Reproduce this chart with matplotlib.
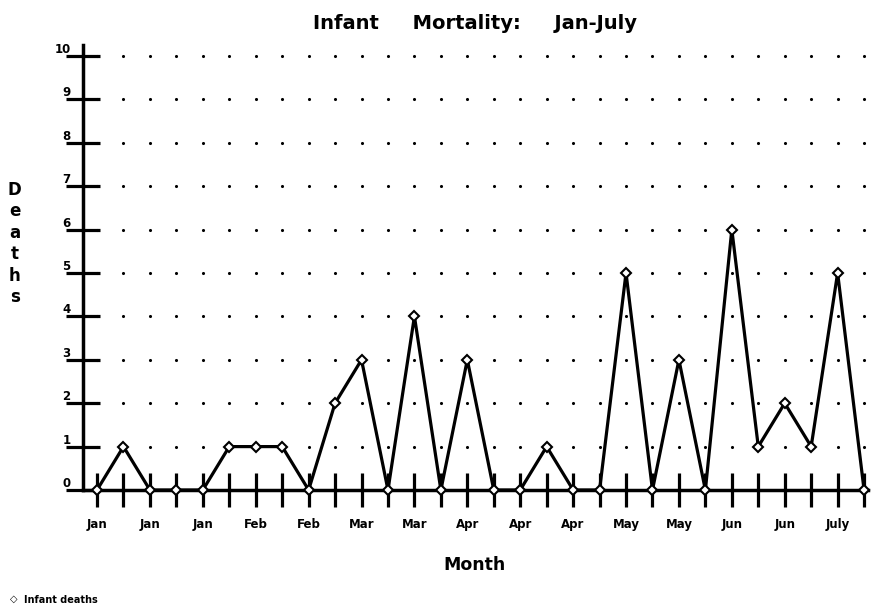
import numpy as np
import matplotlib.pyplot as plt

plt.rcParams['font.family'] = ['DejaVu Sans']

# -----------------------------------------
# Datos
# -----------------------------------------
months = ["Jan", "Jan", "Jan", "Jan", "Jan", "Feb", "Feb", "Feb", "Feb", "Mar",
          "Mar", "Mar", "Mar", "Apr", "Apr", "Apr", "Apr", "Apr", "Apr", "May",
          "May", "May", "May", "Jun", "Jun", "Jun", "Jun", "July", "July", "July"]
deaths = [0, 1, 0, 0, 0, 1, 1, 1, 0, 2,
          3, 0, 4, 0, 3, 0, 0, 1, 0, 0,
          5, 0, 3, 0, 6, 1, 2, 1, 5, 0]
tick_labels = ["Jan", "", "Jan", "", "Jan", "", "Feb", "", "Feb", "",
               "Mar", "", "Mar", "", "Apr", "", "Apr", "", "Apr", "",
               "May", "", "May", "", "Jun", "", "Jun", "", "July", ""]
y_ticks = list(range(0, 11))

x = np.arange(len(deaths))

fig = plt.figure(figsize=(8.71, 6.09), dpi=100)
ax = fig.add_axes([0.0953, 0.1954, 0.9013, 0.7306])

# puntos de la rejilla
gx, gy = np.meshgrid(x, y_ticks[1:])
ax.scatter(gx.ravel(), gy.ravel(), s=5, color="black", zorder=1, linewidths=0)

# serie
ax.plot(x, deaths, color="black", lw=2.3, marker="D", ms=5,
        mfc="white", mec="black", mew=1.5, zorder=3, clip_on=False)

ax.set_xlim(-0.53, 29.15)
ax.set_ylim(0, 10.25)

ax.spines["top"].set_visible(False)
ax.spines["right"].set_visible(False)
ax.spines["left"].set_linewidth(2.5)
ax.spines["bottom"].set_linewidth(2.5)

ax.set_xticks(x)
ax.set_xticklabels(tick_labels, fontsize=8.5, fontweight="bold")
ax.set_yticks(y_ticks)
ax.set_yticklabels([str(v) for v in y_ticks], fontsize=8.5, fontweight="bold")
for lab in ax.get_yticklabels():
    lab.set_verticalalignment("bottom")

ax.tick_params(axis="x", direction="inout", length=25, width=2.3, pad=8)
ax.tick_params(axis="y", direction="inout", length=24, width=2.3, pad=-3)

fig.text(0.545, 0.962, "Infant     Mortality:     Jan-July", ha="center", va="center",
         fontsize=14, fontweight="bold")
fig.text(0.545, 0.072, "Month", ha="center", va="center", fontsize=12.5, fontweight="bold")
fig.text(0.017, 0.6, "D\ne\na\nt\nh\ns", ha="center", va="center", fontsize=12,
         fontweight="bold", linespacing=1.25)

# leyenda
fig.text(0.012, 0.008, "\u25c7", ha="left", va="bottom", fontsize=7, fontweight="bold")
fig.text(0.027, 0.007, "Infant deaths", ha="left", va="bottom", fontsize=7,
         fontweight="bold")

fig.savefig("out.png", dpi=100)
